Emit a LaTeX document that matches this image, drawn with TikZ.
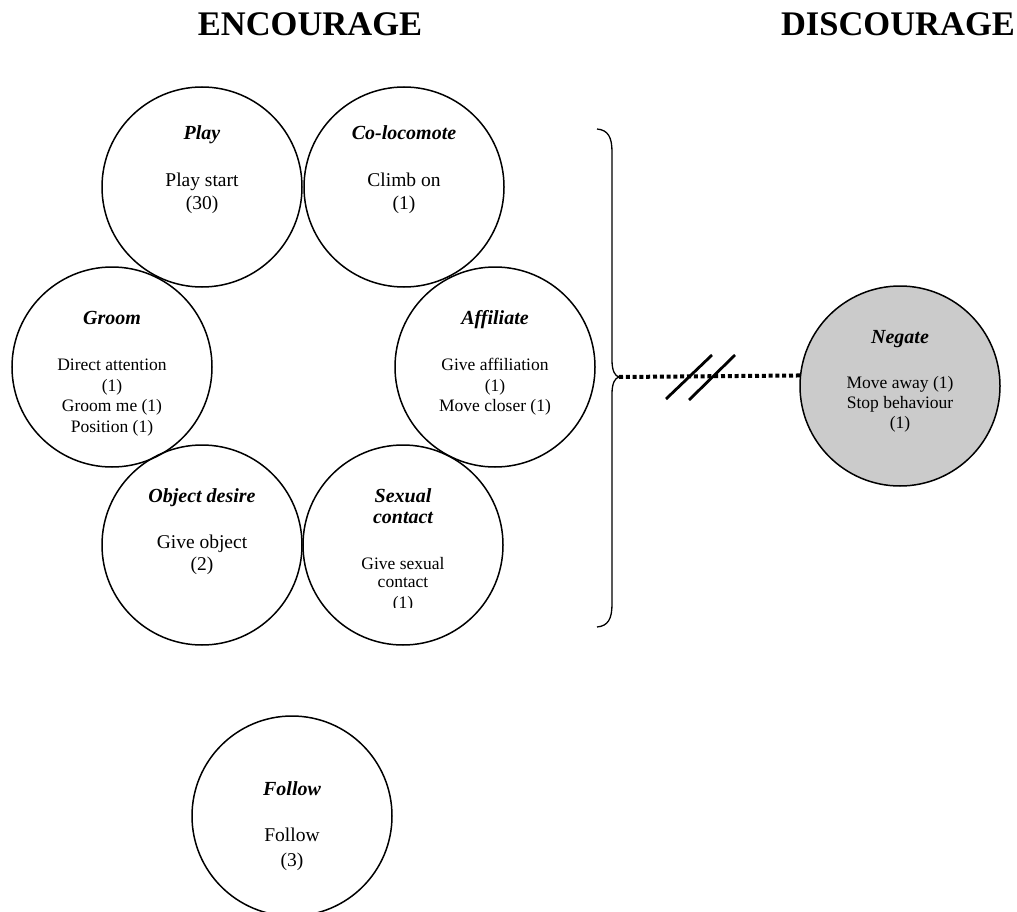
\documentclass[tikz,border=0pt]{standalone}
\usepackage{fontspec}
\setmainfont{Liberation Serif}
\begin{document}
\begin{tikzpicture}[x=1pt,y=-1pt,
  bub/.style={circle,draw,line width=1.5pt,minimum size=200pt,inner sep=0pt},
  head/.style={font=\fontsize{20}{24}\selectfont\bfseries\itshape,anchor=base,inner sep=0pt},
  big/.style={font=\fontsize{19.5}{22}\selectfont,anchor=base,inner sep=0pt},
  small/.style={font=\fontsize{17.5}{20}\selectfont,anchor=base,inner sep=0pt},
  title/.style={font=\fontsize{34.5}{40}\selectfont\bfseries,anchor=base,inner sep=0pt},
  dotline/.style={line width=4pt,dash pattern=on 4pt off 2.8pt},
  slash/.style={line width=2.8pt},
  bracestyle/.style={line width=1.3pt}]
\useasboundingbox (0,0) rectangle (1017,912);

% titles
\node[title] (enc) at (310,36) {ENCOURAGE};
\node[title] (dis) at (898,36) {DISCOURAGE};

% Play
\node[bub] (play) at (202,187) {};
\node[head] (playh) at (202,140) {Play};
\node[big] (playa) at (202,187) {Play start};
\node[big] (playb) at (202,210) {(30)};

% Co-locomote
\node[bub] (colo) at (404,187) {};
\node[head] (coloh) at (404,140) {Co-locomote};
\node[big] (coloa) at (404,187) {Climb on};
\node[big] (colob) at (404,210) {(1)};

% Groom
\node[bub] (groom) at (112,367) {};
\node[head] (groomh) at (112,324) {Groom};
\node[small] (grooma) at (112,370) {Direct attention};
\node[small] (groomb) at (112,391) {(1)};
\node[small] (groomc) at (112,411) {Groom me (1)};
\node[small] (groomd) at (112,432) {Position (1)};

% Affiliate
\node[bub] (aff) at (495,367) {};
\node[head] (affh) at (495,324) {Affiliate};
\node[small] (affa) at (495,370) {Give affiliation};
\node[small] (affb) at (495,391) {(1)};
\node[small] (affc) at (495,411) {Move closer (1)};

% Object desire
\node[bub] (obj) at (202,545) {};
\node[head] (objh) at (202,502) {Object desire};
\node[big] (obja) at (202,548) {Give object};
\node[big] (objb) at (202,570) {(2)};

% Sexual contact
\node[bub] (sex) at (403,545) {};
\node[head] (sexh) at (403,502) {Sexual};
\node[head] (sexi) at (403,523) {contact};
\node[small] (sexa) at (403,569) {Give sexual};
\node[small] (sexb) at (403,587) {contact};
\begin{scope}
  \clip (360,590) rectangle (450,607);
  \node[small] (sexc) at (403,608) {(1)};
\end{scope}

% Follow
\node[bub] (fol) at (292,816) {};
\node[head] (folh) at (292,795) {Follow};
\node[big] (fola) at (292,841) {Follow};
\node[big] (folb) at (292,866) {(3)};

% Negate
\node[bub,fill={rgb,255:red,203;green,203;blue,203}] (neg) at (900,386) {};
\node[head] (negh) at (900,343) {Negate};
\node[small] (nega) at (900,388) {Move away (1)};
\node[small] (negb) at (900,408) {Stop behaviour};
\node[small] (negc) at (900,428) {(1)};

% brace
\coordinate (tip) at (619,377);
\draw[bracestyle] (597,129) .. controls (608,130) and (612,137) .. (612,152)
  -- (612,360) .. controls (612,371) and (615,376) .. (tip)
  .. controls (615,378) and (612,383) .. (612,394)
  -- (612,604) .. controls (612,619) and (608,626) .. (597,627);

% dotted connector
\draw[dotline] (tip) -- (neg.174.8);
\draw[slash] (666,399) -- (712,355);
\draw[slash] (689,400) -- (735,355);
\end{tikzpicture}
\end{document}
